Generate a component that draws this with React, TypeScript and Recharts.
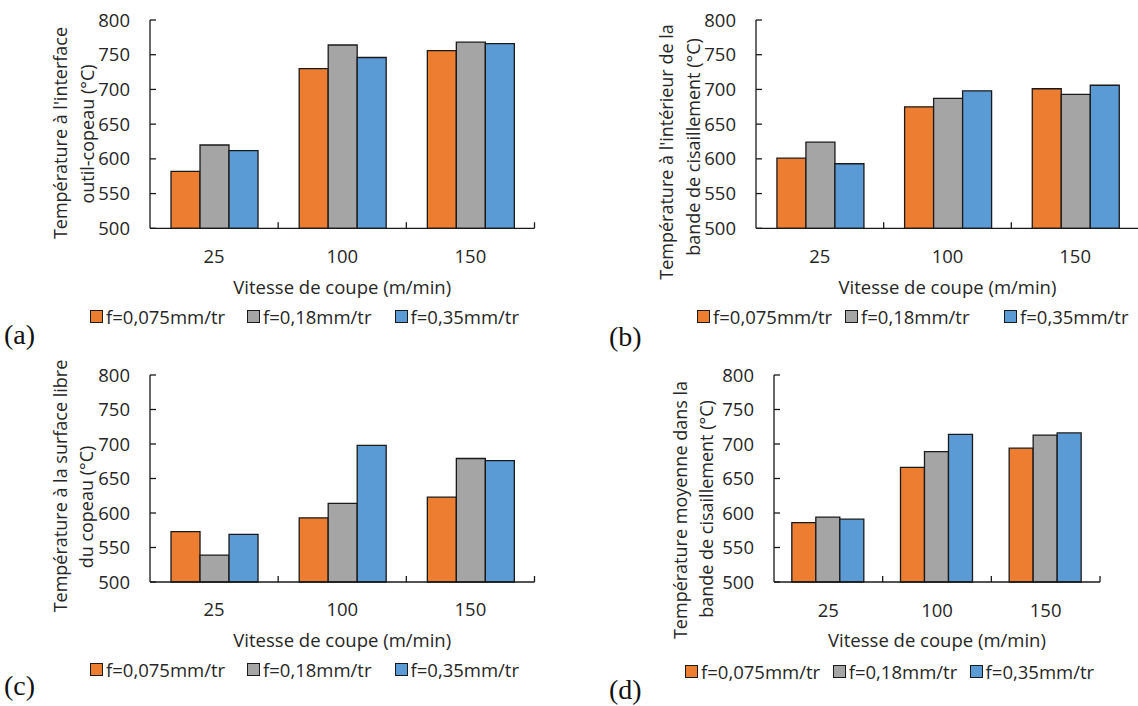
import { BarChart, Bar, XAxis, YAxis } from "recharts";

const speeds = ["25", "100", "150"];
const feedLabels = ["f=0,075mm/tr", "f=0,18mm/tr", "f=0,35mm/tr"];
const feedColors = ["#ED7D31", "#A5A5A5", "#5B9BD5"];
const yTicks = [500, 550, 600, 650, 700, 750, 800];

// (a) interface outil-copeau
const interfaceF075 = [582, 730, 756];
const interfaceF018 = [620, 764, 768];
const interfaceF035 = [612, 746, 766];

// (b) interieur de la bande de cisaillement
const bandF075 = [601, 675, 701];
const bandF018 = [624, 687, 693];
const bandF035 = [593, 698, 706];

// (c) surface libre du copeau
const surfaceF075 = [573, 593, 623];
const surfaceF018 = [539, 614, 679];
const surfaceF035 = [569, 698, 676];

// (d) moyenne dans la bande de cisaillement
const meanF075 = [586, 666, 694];
const meanF018 = [594, 689, 713];
const meanF035 = [591, 714, 716];

const FONT = "'Open Sans', sans-serif";
const TEXT = "#262626";
const AXIS = "#1a1a1a";
const FS = 18.5;
const keys = ["f075", "f018", "f035"];

// y ticks: label outside, short tick mark pointing into the plot
const Y_GAP = 20;
const YTick = (props: any) => {
  const { x, y, payload } = props;
  return (
    <g>
      <line x1={x + Y_GAP} x2={x + Y_GAP + 6} y1={y} y2={y} stroke={AXIS} strokeWidth={1.3} />
      <text x={x} y={y} dy="0.355em" textAnchor="end" fill={TEXT} fontSize={FS} fontFamily={FONT}>
        {payload.value}
      </text>
    </g>
  );
};

// x ticks: label at band centre, tick mark at the band's right edge (Excel style)
const makeXTick = (margin: number, halfBand: number) => (props: any) => {
  const { x, y, payload } = props;
  const off = typeof payload.offset === "number" && payload.offset > 0 ? payload.offset : halfBand;
  const axisY = y - margin;
  return (
    <g>
      <line x1={x + off} x2={x + off} y1={axisY} y2={axisY - 6} stroke={AXIS} strokeWidth={1.3} />
      <text x={x} y={y} dy="0.71em" textAnchor="middle" fill={TEXT} fontSize={FS} fontFamily={FONT}>
        {payload.value}
      </text>
    </g>
  );
};

type YLine = { text: string; cx: number; cy: number };
type PanelProps = {
  tag: string;
  tagX: number;
  tagY: number;
  series: number[][];
  plot: { l: number; r: number; t: number; b: number };
  yLines: YLine[];
  tickY: number;
  titleY: number;
  legendY: number;
  legendX: number[];
};

function Panel({ tag, tagX, tagY, series, plot, yLines, tickY, titleY, legendY, legendX }: PanelProps) {
  const data = speeds.map((s, i) => ({
    speed: s,
    f075: series[0][i],
    f018: series[1][i],
    f035: series[2][i],
  }));
  const yW = 60;
  const padL = 80;
  const padT = 20;
  const padR = 10;
  const padB = 50;
  const left = plot.l - padL;
  const top = plot.t - padT;
  const width = plot.r - plot.l + padL + padR;
  const height = plot.b - plot.t + padT + padB;
  const tickMargin = tickY - 0.355 * FS - plot.b;
  const XTick = makeXTick(tickMargin, (plot.r - plot.l) / speeds.length / 2);

  return (
    <>
      <div style={{ position: "absolute", left, top }}>
        <BarChart
          width={width}
          height={height}
          data={data}
          barGap={0}
          barCategoryGap="16.4%"
          margin={{ top: padT, left: padL - yW, right: padR, bottom: padB - 1 }}
        >
          <XAxis
            dataKey="speed"
            height={1}
            tickLine={false}
            tickSize={0}
            tickMargin={tickMargin}
            stroke={AXIS}
            strokeWidth={1.3}
            tick={XTick}
          />
          <YAxis
            width={yW}
            domain={[500, 800]}
            ticks={yTicks}
            interval={0}
            tickLine={false}
            tickSize={0}
            tickMargin={Y_GAP}
            stroke={AXIS}
            strokeWidth={1.3}
            tick={YTick}
          />
          {keys.map((k, i) => (
            <Bar
              key={k}
              dataKey={k}
              fill={feedColors[i]}
              stroke={AXIS}
              strokeWidth={1.3}
              isAnimationActive={false}
            />
          ))}
        </BarChart>
      </div>

      {yLines.map((ln) => (
        <div
          key={ln.text}
          style={{
            position: "absolute",
            left: ln.cx,
            top: ln.cy,
            transform: "translate(-50%, -50%) rotate(-90deg)",
            whiteSpace: "nowrap",
            fontSize: 18,
            lineHeight: "20px",
            fontFamily: FONT,
            color: TEXT,
          }}
        >
          {ln.text}
        </div>
      ))}

      <div
        style={{
          position: "absolute",
          left: (plot.l + plot.r) / 2,
          top: titleY,
          transform: "translate(-50%, -50%)",
          whiteSpace: "nowrap",
          fontSize: FS,
          lineHeight: "22px",
          fontFamily: FONT,
          color: TEXT,
        }}
      >
        Vitesse de coupe (m/min)
      </div>

      {feedLabels.map((lab, i) => (
        <div
          key={lab}
          style={{
            position: "absolute",
            left: legendX[i],
            top: legendY - 11,
            height: 22,
            display: "flex",
            alignItems: "center",
            gap: 3,
            whiteSpace: "nowrap",
            fontSize: FS,
            fontFamily: FONT,
            color: TEXT,
          }}
        >
          <span
            style={{
              width: 13,
              height: 13,
              boxSizing: "border-box",
              border: `1.3px solid ${AXIS}`,
              background: feedColors[i],
              display: "inline-block",
            }}
          />
          <span>{lab}</span>
        </div>
      ))}

      <div
        style={{
          position: "absolute",
          left: tagX,
          top: tagY,
          transform: "translateY(-50%)",
          fontFamily: "'Liberation Serif', serif",
          fontSize: 28,
          lineHeight: "30px",
          color: "#111",
        }}
      >
        {tag}
      </div>
    </>
  );
}

export default function App() {
  return (
    <div
      style={{
        position: "absolute",
        left: 0,
        top: 0,
        width: 1138,
        height: 706,
        overflow: "hidden",
        background: "#fff",
      }}
    >
      <Panel
        tag="(a)"
        tagX={4}
        tagY={335}
        series={[interfaceF075, interfaceF018, interfaceF035]}
        plot={{ l: 150, r: 534.5, t: 20, b: 228.3 }}
        yLines={[
          { text: "Température à l'interface", cx: 60, cy: 133 },
          { text: "outil-copeau (°C)", cx: 87, cy: 134 },
        ]}
        tickY={256.7}
        titleY={286.7}
        legendY={316.7}
        legendX={[90, 247, 394.5]}
      />
      <Panel
        tag="(b)"
        tagX={609}
        tagY={337}
        series={[bandF075, bandF018, bandF035]}
        plot={{ l: 756, r: 1139, t: 20, b: 228.3 }}
        yLines={[
          { text: "Température à l'intérieur de la", cx: 666, cy: 152 },
          { text: "bande de cisaillement (°C)", cx: 693, cy: 147 },
        ]}
        tickY={256.7}
        titleY={286.7}
        legendY={316.7}
        legendX={[697, 845, 1004]}
      />
      <Panel
        tag="(c)"
        tagX={4}
        tagY={686}
        series={[surfaceF075, surfaceF018, surfaceF035]}
        plot={{ l: 150, r: 534.5, t: 375.3, b: 582.3 }}
        yLines={[
          { text: "Température à la surface libre", cx: 60, cy: 485.5 },
          { text: "du copeau (°C)", cx: 86, cy: 507 },
        ]}
        tickY={610}
        titleY={640}
        legendY={669.7}
        legendX={[90, 247, 394.5]}
      />
      <Panel
        tag="(d)"
        tagX={609}
        tagY={690}
        series={[meanF075, meanF018, meanF035]}
        plot={{ l: 774, r: 1100, t: 375.3, b: 582.3 }}
        yLines={[
          { text: "Température moyenne dans la", cx: 680, cy: 510 },
          { text: "bande de cisaillement (°C)", cx: 706, cy: 509 },
        ]}
        tickY={610.3}
        titleY={640}
        legendY={671}
        legendX={[685, 832.7, 969.6]}
      />
    </div>
  );
}
